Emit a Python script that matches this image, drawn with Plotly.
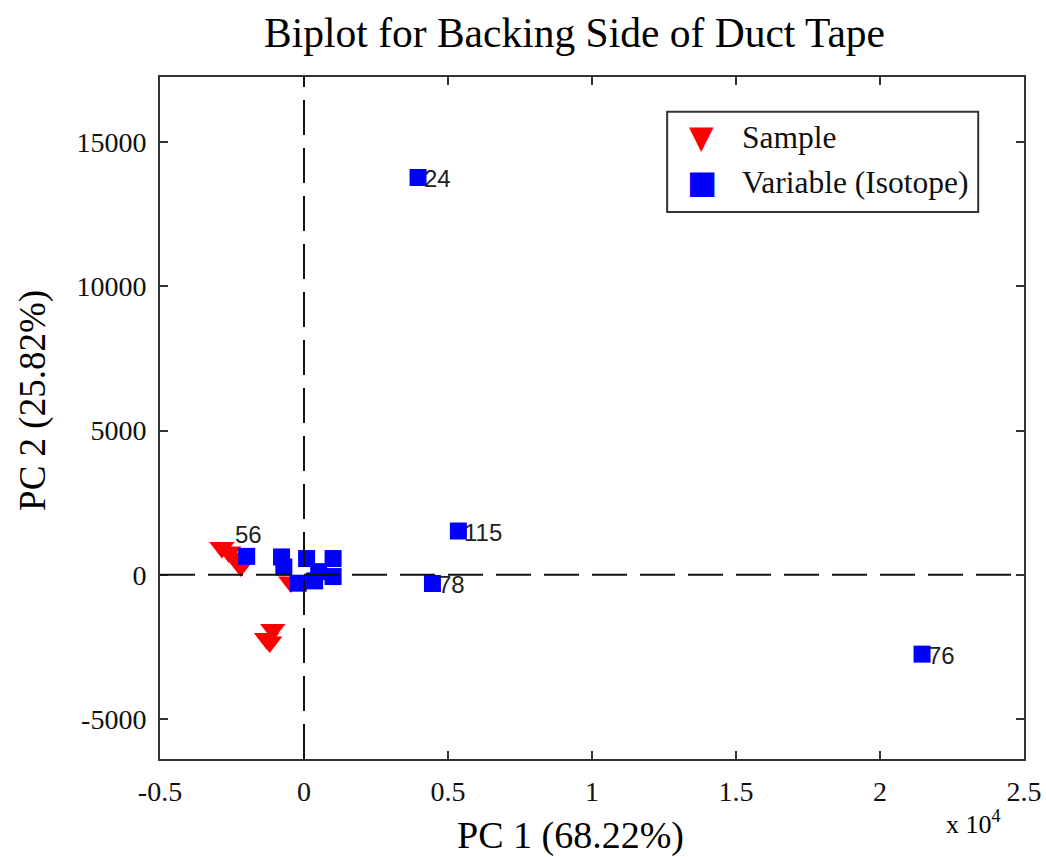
import plotly.graph_objects as go

# PCA scores (samples) and loadings (isotopes), raw units
sample_pc1 = [-2850, -2610, -2400, -2200, -460, -1085, -1300, -1190]
sample_pc2 = [950, 790, 585, 305, -250, -1900, -2210, -2330]

var_pc1 = [3960, 5360, 4460, 21460, -1990, -780, -700, 90, -200, 370, 510, 1010, 1010]
var_pc2 = [13780, 1520, -300, -2750, 640, 620, 270, 565, -290, -210, 110, 565, -60]
var_labels = ["24", "115", "78", "76", "56", "", "", "", "", "", "", "", ""]

x_tickvals = [-5000, 0, 5000, 10000, 15000, 20000, 25000]
x_ticktext = ["-0.5", "0", "0.5", "1", "1.5", "2", "2.5"]
y_tickvals = [-5000, 0, 5000, 10000, 15000]
y_ticktext = ["-5000", "0", "5000", "10000", "15000"]

SERIF = "Liberation Serif"
SANS = "Liberation Sans"
RED = "#ff0000"
BLUE = "#0000ff"
FRAME = "#333333"

fig = go.Figure()

fig.add_trace(go.Scatter(
    x=sample_pc1, y=sample_pc2, mode="markers", name="Sample",
    marker=dict(symbol="triangle-down", size=22, color=RED, line=dict(width=0)),
    showlegend=False,
))
fig.add_trace(go.Scatter(
    x=var_pc1, y=var_pc2, mode="markers", name="Variable (Isotope)",
    marker=dict(symbol="square", size=17, color=BLUE, line=dict(width=0)),
    showlegend=False,
))

# isotope labels next to their loadings
for xv, yv, lab in zip(var_pc1, var_pc2, var_labels):
    if not lab:
        continue
    if lab == "56":
        fig.add_annotation(x=xv, y=yv, text=lab, showarrow=False, xanchor="center",
                           yanchor="middle", yshift=22, xshift=2,
                           font=dict(family=SANS, size=24, color="#222222"))
    else:
        fig.add_annotation(x=xv, y=yv, text=lab, showarrow=False, xanchor="left",
                           yanchor="middle", xshift=4, yshift=-1,
                           font=dict(family=SANS, size=24, color="#222222"))

# dashed origin lines
dash = "35px,13px"
fig.add_hline(y=0, line=dict(color="#111111", width=2, dash=dash))
fig.add_vline(x=0, line=dict(color="#111111", width=2, dash=dash))

# legend box
fig.add_shape(type="rect", xref="paper", yref="paper", x0=0.587, x1=0.947, y0=0.802, y1=0.949,
              line=dict(color=FRAME, width=2), fillcolor="white")
legend_rows = [("▼", RED, "Sample", 0.912), ("■", BLUE, "Variable (Isotope)", 0.846)]
for sym, col, txt, yy in legend_rows:
    fig.add_annotation(xref="paper", yref="paper", x=0.627, y=yy, text=sym, showarrow=False,
                       xanchor="center", yanchor="middle",
                       font=dict(family="DejaVu Sans", size=32, color=col))
    fig.add_annotation(xref="paper", yref="paper", x=0.671, y=yy, text=txt, showarrow=False,
                       xanchor="left", yanchor="middle",
                       font=dict(family=SERIF, size=31.5, color="#111111"))

# title and axis titles
fig.add_annotation(xref="paper", yref="paper", x=0.48, y=1.0, yshift=44, text="Biplot for Backing Side of Duct Tape",
                   showarrow=False, xanchor="center", yanchor="middle",
                   font=dict(family=SERIF, size=41.5, color="#000000"))
fig.add_annotation(xref="paper", yref="paper", x=0.475, y=0, yshift=-76, text="PC 1 (68.22%)",
                   showarrow=False, xanchor="center", yanchor="middle",
                   font=dict(family=SERIF, size=38, color="#000000"))
fig.add_annotation(xref="paper", yref="paper", x=0, xshift=-127, y=0.525, text="PC 2 (25.82%)",
                   textangle=-90, showarrow=False, xanchor="center", yanchor="middle",
                   font=dict(family=SERIF, size=37, color="#000000"))
fig.add_annotation(xref="paper", yref="paper", x=0.942, y=0, yshift=-63, text="x 10<sup>4</sup>",
                   showarrow=False, xanchor="center", yanchor="middle",
                   font=dict(family=SERIF, size=26, color="#000000"))

axis_common = dict(showline=True, linecolor=FRAME, linewidth=2, mirror="allticks",
                   ticks="inside", ticklen=8, tickwidth=2, tickcolor=FRAME,
                   showgrid=False, zeroline=False, ticklabelstandoff=6, automargin=False,
                   tickfont=dict(family=SERIF, size=28, color="#111111"))

fig.update_xaxes(range=[-5000, 25000], tickvals=x_tickvals, ticktext=x_ticktext, **axis_common)
fig.update_yaxes(range=[-6387, 17265], tickvals=y_tickvals, ticktext=y_ticktext, **axis_common)

fig.update_layout(
    width=1046, height=857,
    margin=dict(l=160, r=22, t=77, b=98),
    plot_bgcolor="white", paper_bgcolor="white",
    showlegend=False,
)

fig.write_html("out.html")
